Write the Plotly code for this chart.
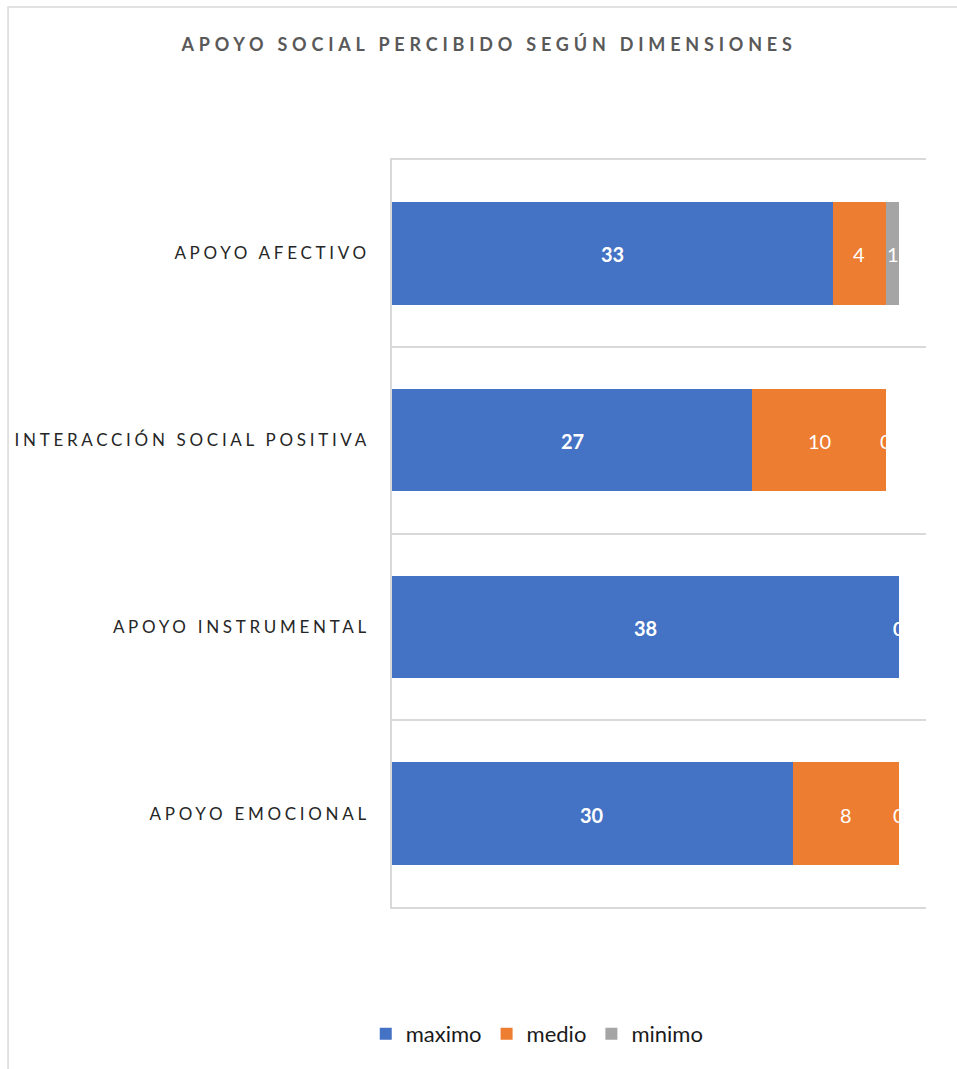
import plotly.graph_objects as go

# ── Data ──────────────────────────────────────────────────────────────────────
dimensiones = ["APOYO EMOCIONAL", "APOYO INSTRUMENTAL",
               "INTERACCIÓN SOCIAL POSITIVA", "APOYO AFECTIVO"]
maximo = [30, 38, 27, 33]
medio  = [8, 0, 10, 4]
minimo = [0, 0, 0, 1]

series = [("maximo", maximo, "#4472C4", True),
          ("medio",  medio,  "#ED7D31", False),
          ("minimo", minimo, "#A5A5A5", False)]

FONT = "Lato, 'Open Sans', sans-serif"

fig = go.Figure()

# stacked bars
for name, vals, colour, _ in series:
    fig.add_trace(go.Bar(
        name=name, x=vals, y=dimensiones, orientation="h",
        marker=dict(color=colour, line=dict(width=0)),
        hoverinfo="x+name",
    ))

# data labels at the centre of each segment (zero segments sit on the bar end)
base = [0] * len(dimensiones)
for name, vals, colour, bold in series:
    for cat, b, v in zip(dimensiones, base, vals):
        fig.add_annotation(
            x=b + v / 2, y=cat, text=f"<b>{v}</b>" if bold else str(v),
            showarrow=False, yshift=-1,
            font=dict(family=FONT, size=20, color="white"),
        )
    base = [b + v for b, v in zip(base, vals)]

fig.update_layout(
    width=957, height=1069,
    barmode="stack", bargap=0.45,
    paper_bgcolor="white", plot_bgcolor="white",
    margin=dict(l=392, r=31, t=160, b=162),
    title=dict(text="<b>APOYO SOCIAL PERCIBIDO SEGÚN DIMENSIONES</b>",
               x=0.511, xanchor="center", y=0.958, yanchor="middle",
               font=dict(family=FONT, size=18, color="#595959")),
    xaxis=dict(range=[0, 40], showticklabels=False, showgrid=False,
               zeroline=False, showline=True, mirror=True,
               linecolor="#D9D9D9", linewidth=1.5, ticks=""),
    yaxis=dict(type="category", tickson="boundaries", showgrid=True,
               gridcolor="#D9D9D9", gridwidth=1.5, showline=True,
               linecolor="#D9D9D9", linewidth=1.5, ticks="", ticklabelstandoff=17,
               tickfont=dict(family=FONT, size=17, color="#262626")),
    legend=dict(orientation="h", x=0.272, xanchor="center",
                y=-0.17, yanchor="middle", traceorder="normal",
                font=dict(family=FONT, size=22, color="#1a1a1a"),
                itemwidth=30),
    showlegend=True,
)

# chart-area border (top/left visible in the reference)
fig.add_shape(type="rect", xref="paper", yref="paper",
              x0=-0.719, x1=1.07, y0=-0.23, y1=1.2048,
              line=dict(color="#D9D9D9", width=1.5), layer="below")

post = """
document.body.style.margin = '0';
var gd = document.getElementById('{plot_id}');
function spacing() {
  gd.querySelectorAll('.ytick text').forEach(function(t){ t.style.letterSpacing = '3.7px'; });
  gd.querySelectorAll('.gtitle').forEach(function(t){ t.style.letterSpacing = '4.8px'; });
}
spacing();
gd.on('plotly_afterplot', spacing);
"""

fig.write_html("out.html", post_script=post, config={"displayModeBar": False})
